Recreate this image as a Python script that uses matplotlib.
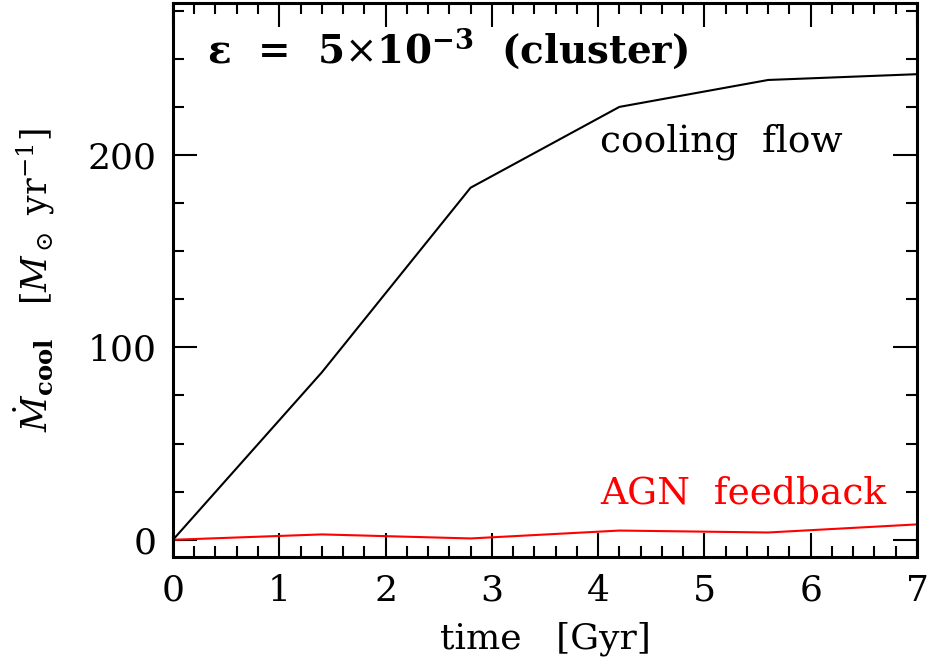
import matplotlib
matplotlib.use("Agg")
from matplotlib import pyplot as plt
from matplotlib.ticker import MultipleLocator

plt.rcParams['font.family'] = ['DejaVu Serif']
plt.rcParams['mathtext.fontset'] = 'dejavuserif'

# data
time = [0, 1.4, 2.8, 4.2, 5.6, 7.0]
cooling_flow = [0, 87, 183, 225, 239, 242]
agn_feedback = [0, 2.8, 0.7, 4.8, 3.8, 8.0]

fig = plt.figure(figsize=(9.3, 6.68), dpi=100)
ax = fig.add_axes([0.186, 0.166, 0.800, 0.8295])

ax.plot(time, cooling_flow, color='black', linewidth=1.5)
ax.plot(time, agn_feedback, color='red', linewidth=1.5)

ax.set_xlim(0, 7)
ax.set_ylim(-9, 279)

# ticks on all four sides, pointing in
ax.xaxis.set_major_locator(MultipleLocator(1))
ax.xaxis.set_minor_locator(MultipleLocator(0.2))
ax.yaxis.set_major_locator(MultipleLocator(100))
ax.yaxis.set_minor_locator(MultipleLocator(25))
ax.tick_params(which='both', direction='in', top=True, right=True, labelsize=26, width=1.5)
ax.tick_params(which='major', length=17, pad=12)
ax.tick_params(which='minor', length=8)
for s in ax.spines.values():
    s.set_linewidth(2.2)

ax.set_xlabel('time   [Gyr]', fontsize=26, labelpad=10)
ax.set_ylabel(r'$\dot{M}_{\mathbf{cool}}$   $[M_\odot\ \mathrm{yr}^{-1}]$', fontsize=25, labelpad=22)

ax.text(0.32, 255, r'$\mathbf{\epsilon}$  =  5$\times$10$^{\mathbf{-3}}$  (cluster)', fontsize=28,
        fontweight='bold', va='center', ha='left')
ax.text(4.02, 207, 'cooling  flow', fontsize=27, va='center', ha='left')
ax.text(4.02, 24, 'AGN  feedback', fontsize=27, va='center', ha='left', color='red')

plt.savefig('out.png', dpi=100)
